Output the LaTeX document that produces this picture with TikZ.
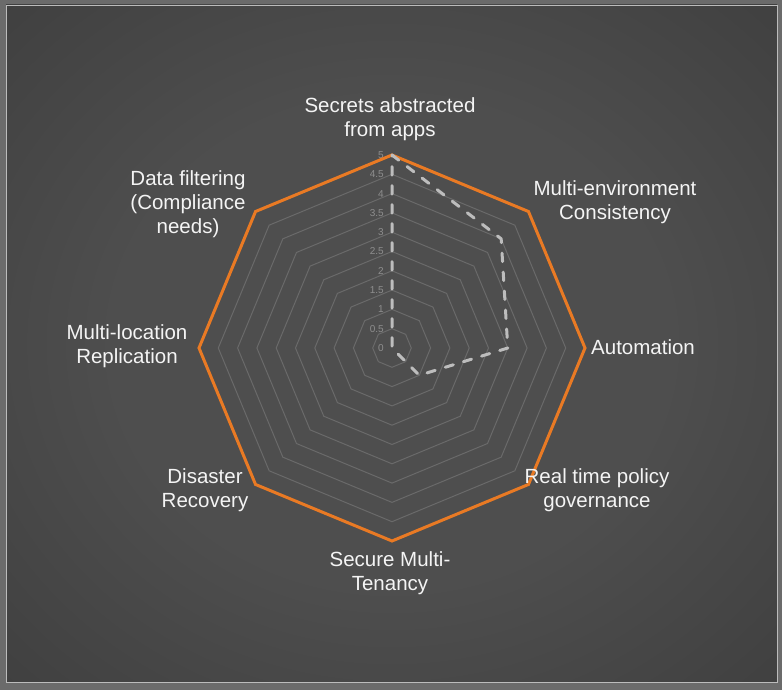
\documentclass[tikz,border=0pt]{standalone}
\usepackage{fontspec}
\setmainfont{Liberation Sans}
\usetikzlibrary{positioning}
\definecolor{framegray}{HTML}{6B6B6B}
\definecolor{bgmid}{HTML}{4E4E4E}
\definecolor{bgedge}{HTML}{232323}
\definecolor{ringgray}{HTML}{6A6A6A}
\definecolor{chartorange}{HTML}{E97A24}
\definecolor{seriesgray}{HTML}{BDBDBD}
\definecolor{tickgray}{HTML}{8E8E8E}
\definecolor{labelwhite}{HTML}{F4F4F4}
\pgfdeclareradialshading{bgglow}{\pgfpoint{0bp}{0bp}}{color(0bp)=(bgmid); color(18bp)=(bgmid); color(72bp)=(bgedge)}
\tikzset{
  ring/.style={ringgray, line width=1pt},
  outerring/.style={chartorange, line width=3pt, line join=miter},
  series/.style={seriesgray, line width=3pt, dash pattern=on 8.5pt off 10.5pt, line cap=round, line join=round},
  ticklabel/.style={tickgray, anchor=east, inner sep=0pt, font=\fontsize{10}{11}\selectfont},
  catlabel/.style={labelwhite, align=center, inner sep=0pt, font=\fontsize{20.5}{24}\selectfont}
}
\begin{document}
\begin{tikzpicture}[x=1pt, y=1pt]
\useasboundingbox (0,0) rectangle (782,690);
% frame and background
\fill[framegray] (0,0) rectangle (782,690);
\shade[shading=bgglow] (6,8) rectangle (777,685);
\draw[white!55!framegray, line width=0.8pt] (6,8) rectangle (777,685);
%
\begin{scope}[shift={(392,342)}]
% grid rings (step 0.5)
\foreach \v in {0.5,1,...,4.5}{
\draw[ring] (0:{\v*38.6}) \foreach \a in {45,90,...,315}{ -- (\a:{\v*38.6})} -- cycle;
}
% axis values
\foreach \v in {0,0.5,1,...,5}{
\node[ticklabel] at (-8, {\v*38.6}) {\v};
}
% outer ring
\draw[outerring] (0:193) \foreach \a in {45,90,...,315}{ -- (\a:193)} -- cycle;
% data series
\draw[series] (90:193) -- (45:154.4) -- (0:115.8) -- (-45:38.6) -- (0,0) -- cycle;
\end{scope}
%
% category labels
\node[catlabel] (secrets) at (390,571) {Secrets abstracted\\from apps};
\node[catlabel] (multienv) at (615,488) {Multi-environment\\Consistency};
\node[catlabel, anchor=west] (automation) at (591,343) {Automation};
\node[catlabel] (realtime) at (597,200) {Real time policy\\governance};
\node[catlabel] (securemt) at (390,117) {Secure Multi-\\Tenancy};
\node[catlabel] (disaster) at (205,200) {Disaster\\Recovery};
\node[catlabel] (multiloc) at (127,344) {Multi-location\\Replication};
\node[catlabel] (datafilter) at (188,486) {Data filtering\\(Compliance\\needs)};
\end{tikzpicture}
\end{document}
